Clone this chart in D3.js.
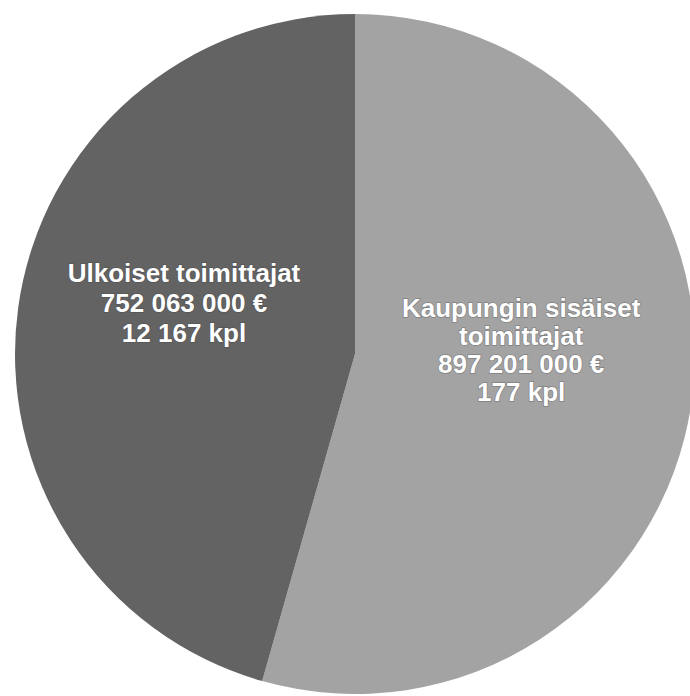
<!DOCTYPE html>
<html><head><meta charset="utf-8">
<script src="https://cdn.jsdelivr.net/npm/d3@7"></script>
<style>html,body{margin:0;padding:0;background:#fff;}</style>
</head><body>
<svg id="c" width="690" height="696"></svg>
<script>
const categories = ["Kaupungin sisäiset toimittajat", "Ulkoiset toimittajat"];
const labelLines = [["Kaupungin sisäiset", "toimittajat", "897 201 000 €", "177 kpl"],
                    ["Ulkoiset toimittajat", "752 063 000 €", "12 167 kpl"]];
const values = [897201000, 752063000];
const counts = [177, 12167];
const colors = ["#a3a3a3", "#636363"];

const svg = d3.select("#c");
const cx = 355, cy = 354, r = 340;
const g = svg.append("g").attr("transform", `translate(${cx},${cy})`);

const pie = d3.pie().sort(null).value(d => d)(values);
const arc = d3.arc().innerRadius(0).outerRadius(r);

g.selectAll("path.slice").data(pie).join("path")
  .attr("class", "slice")
  .attr("d", arc)
  .attr("fill", (d, i) => colors[i]);

// label placement: radius factor, angle tweak and line height per slice (layout only)
const labelR = [0.489, 0.518];
const angTweak = [-0.108, 0.103];
const lineH = [28, 30];
pie.forEach((d, i) => {
  const a = (d.startAngle + d.endAngle) / 2 + angTweak[i];
  const x = Math.sin(a) * r * labelR[i];
  const y = -Math.cos(a) * r * labelR[i];
  const lines = labelLines[i];
  const lh = lineH[i];
  const t = g.append("text")
    .attr("x", x).attr("y", y - (lines.length - 1) * lh / 2)
    .attr("text-anchor", "middle")
    .attr("font-family", "Liberation Sans, Arial, sans-serif")
    .attr("font-weight", "bold")
    .attr("font-size", 26)
    .attr("fill", "#ffffff")
    .style("paint-order", "stroke")
    .attr("stroke", "rgba(60,60,60,0.35)")
    .attr("stroke-width", 1.5);
  lines.forEach((s, k) => {
    t.append("tspan").attr("x", x).attr("dy", k === 0 ? 0 : lh).text(s);
  });
});
</script>
</body></html>
